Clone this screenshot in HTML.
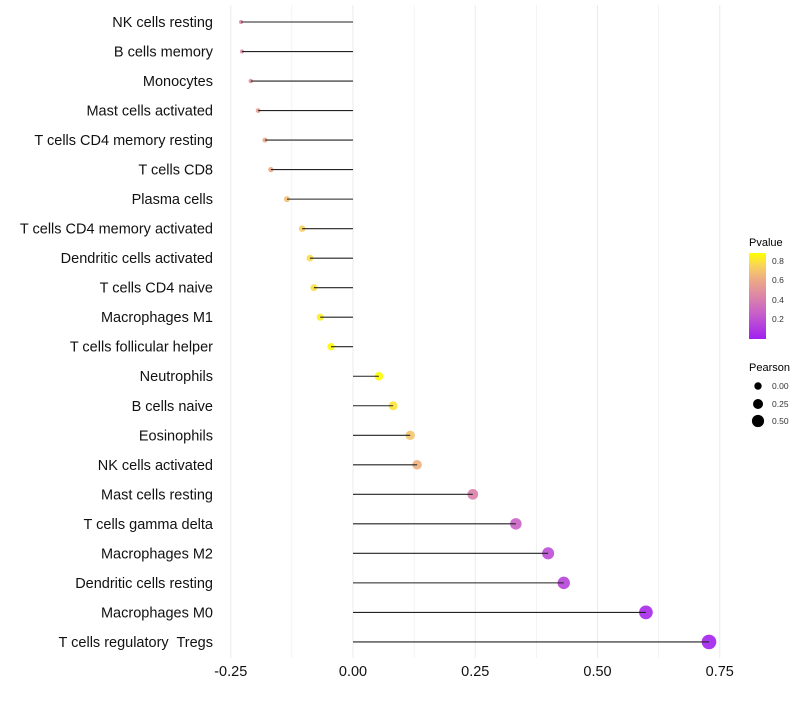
<!DOCTYPE html>
<html><head><meta charset="utf-8"><style>
html,body{margin:0;padding:0;background:#fff;}
svg text{font-family:"Liberation Sans",sans-serif;white-space:pre;}
</style></head><body>
<svg id="chart" width="800" height="700" xmlns="http://www.w3.org/2000/svg">
<g id="grid"></g>
<g id="points"></g>
<g id="lines"></g>
<g id="ylabels"></g>
<g id="xlabels"></g>
<g id="legend">
<defs><linearGradient id="pg" x1="0" y1="1" x2="0" y2="0">
<stop offset="0" stop-color="#A020F0"/><stop offset="0.3" stop-color="#C860C8"/><stop offset="0.5" stop-color="#DC86A6"/><stop offset="0.7" stop-color="#EEAC84"/><stop offset="0.85" stop-color="#F8D25C"/><stop offset="1" stop-color="#FFFF00"/></linearGradient></defs>
<text x="749" y="246" font-size="11" fill="#000">Pvalue</text>
<rect x="749" y="253" width="17" height="86" fill="url(#pg)"/>
<g font-size="8.5" fill="#333">
<text x="772" y="264">0.8</text>
<text x="772" y="283">0.6</text>
<text x="772" y="303">0.4</text>
<text x="772" y="322">0.2</text>
</g>
<text x="749" y="371" font-size="11" fill="#000">Pearson</text>
<circle cx="758" cy="386" r="3.7" fill="#000"/>
<circle cx="758" cy="404" r="5" fill="#000"/>
<circle cx="758" cy="421" r="6.1" fill="#000"/>
<g font-size="8.5" fill="#333">
<text x="772" y="389">0.00</text>
<text x="772" y="407">0.25</text>
<text x="772" y="424">0.50</text>
</g>
</g>
</svg>
<script>
const categories=["NK cells resting","B cells memory","Monocytes","Mast cells activated","T cells CD4 memory resting","T cells CD8","Plasma cells","T cells CD4 memory activated","Dendritic cells activated","T cells CD4 naive","Macrophages M1","T cells follicular helper","Neutrophils","B cells naive","Eosinophils","NK cells activated","Mast cells resting","T cells gamma delta","Macrophages M2","Dendritic cells resting","Macrophages M0","T cells regulatory  Tregs"];
const pearson=[-0.229,-0.227,-0.209,-0.194,-0.180,-0.168,-0.135,-0.104,-0.088,-0.080,-0.067,-0.045,0.053,0.082,0.117,0.131,0.245,0.333,0.399,0.431,0.599,0.728];
const pvalues=[0.45,0.45,0.5,0.55,0.6,0.61,0.68,0.74,0.77,0.79,0.83,0.87,0.87,0.8,0.7,0.63,0.42,0.28,0.18,0.15,0.04,0.01];
const xTicks=[-0.25,0,0.25,0.5,0.75];
const xTickLabels=["-0.25","0.00","0.25","0.50","0.75"];
const NS="http://www.w3.org/2000/svg";
const x=v=>353+v*489;
const y=i=>22+i*29.52;
const stops=[[0,[160,32,240]],[0.3,[200,96,200]],[0.5,[220,134,166]],[0.7,[238,172,132]],[0.85,[248,210,92]],[1,[255,255,0]]];
function color(p){let t=Math.max(0,Math.min(1,p/0.88));for(let k=1;k<stops.length;k++){if(t<=stops[k][0]){const a=stops[k-1],b=stops[k];const f=(t-a[0])/(b[0]-a[0]);const c=a[1].map((v,j)=>Math.round(v+(b[1][j]-v)*f));return `rgb(${c})`;}}return "rgb(255,255,0)";}
const rad=v=>Math.sqrt(Math.max(2,16+52*v));
function mk(tag,attrs,parent){const e=document.createElementNS(NS,tag);for(const k in attrs)e.setAttribute(k,attrs[k]);document.getElementById(parent).appendChild(e);return e;}
for(let v=-0.25;v<=0.751;v+=0.125){
  const g=mk("line",{x1:x(v),x2:x(v),y1:5,y2:658,stroke:"#ebebeb","stroke-width":Math.abs((v*4)%1)<0.01?1:0.6},"grid");
  
  
}
categories.forEach((c,i)=>{
  const pt=mk("circle",{cx:x(pearson[i]),cy:y(i),r:rad(pearson[i]),fill:color(pvalues[i]),"fill-opacity":0.9},"points");
  
  
  const ln=mk("line",{x1:x(0),x2:x(pearson[i]),y1:y(i),y2:y(i),stroke:"#222","stroke-width":1.1},"lines");
  
  
  const t=mk("text",{x:213,y:y(i)+5,"text-anchor":"end","font-size":14.5,fill:"#111"},"ylabels");
  t.textContent=c;
  
  
});
xTicks.forEach((v,i)=>{
  const t=mk("text",{x:x(v),y:676,"text-anchor":"middle","font-size":14.5,fill:"#111"},"xlabels");
  t.textContent=xTickLabels[i];
  
  
});
</script>
</body></html>
